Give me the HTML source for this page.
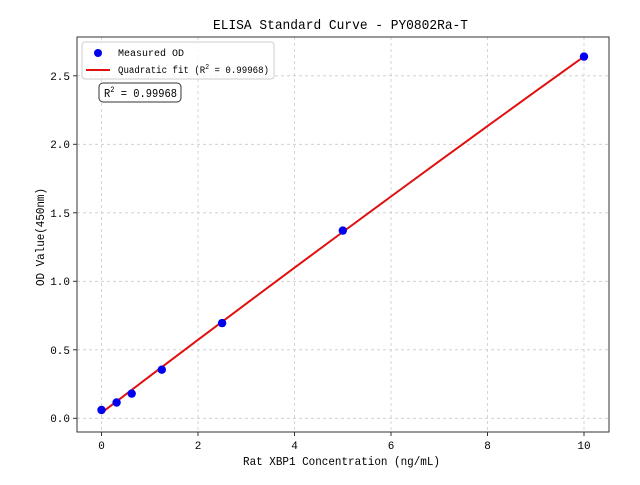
<!DOCTYPE html><html><head><style>body{margin:0;background:#fff}svg text{font-family:"Liberation Mono","WenQuanYi Zen Hei",monospace;fill:#000}</style></head><body>
<svg width="640" height="480" xmlns="http://www.w3.org/2000/svg">
<rect width="640" height="480" fill="#fff"/>
<g stroke="#ccc" stroke-dasharray="3,3" stroke-width="0.8">
<line x1="101.5" y1="37" x2="101.5" y2="432"/><line x1="198" y1="37" x2="198" y2="432"/><line x1="294.5" y1="37" x2="294.5" y2="432"/><line x1="391" y1="37" x2="391" y2="432"/><line x1="487.5" y1="37" x2="487.5" y2="432"/><line x1="584" y1="37" x2="584" y2="432"/>
<line x1="77" y1="418.3" x2="609" y2="418.3"/><line x1="77" y1="349.8" x2="609" y2="349.8"/><line x1="77" y1="281.3" x2="609" y2="281.3"/><line x1="77" y1="212.8" x2="609" y2="212.8"/><line x1="77" y1="144.3" x2="609" y2="144.3"/><line x1="77" y1="75.8" x2="609" y2="75.8"/>
</g>
<polyline fill="none" stroke="#e01010" stroke-width="2" points="101.5,412.8 149.75,376.2 198,339.8 246.25,303.7 294.5,267.7 342.75,232 391,196.5 439.25,161.2 487.5,126.1 535.75,91.2 584,56.6"/>
<g fill="#0000ee">
<circle cx="101.5" cy="410" r="4.2"/><circle cx="116.6" cy="402.5" r="4.2"/><circle cx="131.7" cy="393.6" r="4.2"/><circle cx="161.8" cy="369.7" r="4.2"/><circle cx="222.1" cy="323.1" r="4.2"/><circle cx="342.8" cy="230.6" r="4.2"/><circle cx="584" cy="56.6" r="4.2"/>
</g>
<rect x="77" y="37" width="532" height="395" fill="none" stroke="#333" stroke-width="1"/>
<g stroke="#333"><line x1="101.5" y1="432" x2="101.5" y2="436"/><line x1="198" y1="432" x2="198" y2="436"/><line x1="294.5" y1="432" x2="294.5" y2="436"/><line x1="391" y1="432" x2="391" y2="436"/><line x1="487.5" y1="432" x2="487.5" y2="436"/><line x1="584" y1="432" x2="584" y2="436"/>
<line x1="73" y1="418.3" x2="77" y2="418.3"/><line x1="73" y1="349.8" x2="77" y2="349.8"/><line x1="73" y1="281.3" x2="77" y2="281.3"/><line x1="73" y1="212.8" x2="77" y2="212.8"/><line x1="73" y1="144.3" x2="77" y2="144.3"/><line x1="73" y1="75.8" x2="77" y2="75.8"/></g>
<g font-size="11" text-anchor="middle"><text x="101.5" y="449">0</text><text x="198" y="449">2</text><text x="294.5" y="449">4</text><text x="391" y="449">6</text><text x="487.5" y="449">8</text><text x="584" y="449">10</text></g>
<g font-size="11" text-anchor="end"><text x="70" y="422">0.0</text><text x="70" y="354">0.5</text><text x="70" y="285">1.0</text><text x="70" y="217">1.5</text><text x="70" y="148">2.0</text><text x="70" y="80">2.5</text></g>
<text x="243" y="465" font-size="12" textLength="197" lengthAdjust="spacingAndGlyphs">Rat XBP1 Concentration (ng/mL)</text>
<text transform="translate(44,286) rotate(-90)" font-size="12" textLength="98" lengthAdjust="spacingAndGlyphs">OD Value(450nm)</text>
<text x="213" y="29" font-size="14" textLength="255" lengthAdjust="spacingAndGlyphs">ELISA Standard Curve - PY0802Ra-T</text>
<rect x="82" y="42" width="192" height="37" rx="3" fill="#fff" fill-opacity="0.8" stroke="#ccc"/>
<circle cx="98" cy="53" r="4" fill="#0000ee"/>
<line x1="86" y1="70" x2="110" y2="70" stroke="#e01010" stroke-width="2"/>
<text x="118" y="56" font-size="10">Measured OD</text>
<text x="118" y="73" font-size="10" textLength="151" lengthAdjust="spacingAndGlyphs">Quadratic fit (R<tspan dy="-4" font-size="7">2</tspan><tspan dy="4"> = 0.99968)</tspan></text>
<rect x="99" y="83" width="82" height="19" rx="4" fill="#fff" stroke="#333"/>
<text x="104" y="97" font-size="12" textLength="73" lengthAdjust="spacingAndGlyphs">R<tspan dy="-5" font-size="8">2</tspan><tspan dy="5"> = 0.99968</tspan></text>
</svg></body></html>
